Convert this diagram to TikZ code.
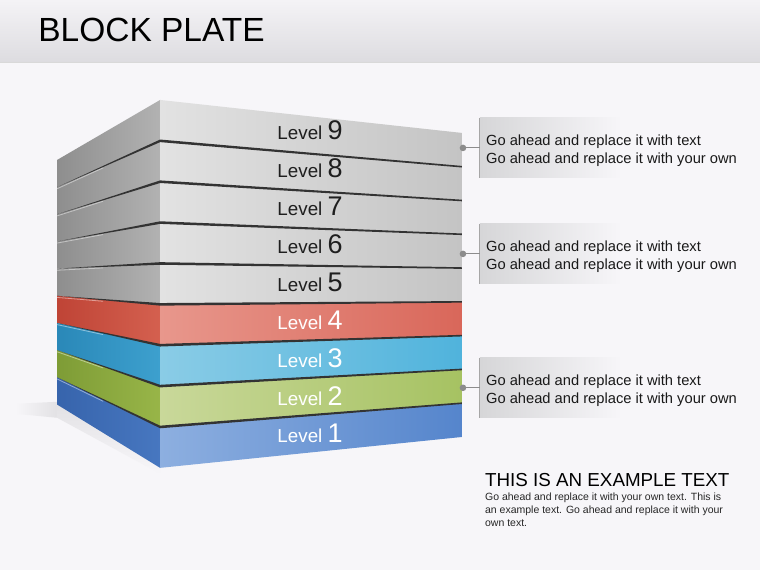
\documentclass[tikz,border=0pt]{standalone}
\usepackage{fontspec}
\setmainfont{Liberation Sans}
\usetikzlibrary{positioning}

\definecolor{pagebg}{HTML}{F7F6F9}
\definecolor{headtop}{HTML}{F4F3F6}
\definecolor{headbot}{HTML}{DDDCE0}
\definecolor{notegray}{HTML}{D6D6D8}
\definecolor{seam}{HTML}{333333}
\definecolor{floorgray}{HTML}{E2E1E4}
% plate colours: front left/right, side left/right, text
\definecolor{grayFL}{HTML}{E2E2E2}
\definecolor{grayFR}{HTML}{C4C4C4}
\definecolor{graySL}{HTML}{8E8E8E}
\definecolor{graySR}{HTML}{B2B2B2}
\definecolor{grayT}{HTML}{1E1E1E}
\definecolor{redFL}{HTML}{E8978C}
\definecolor{redFR}{HTML}{D9675A}
\definecolor{redSL}{HTML}{BF4436}
\definecolor{redSR}{HTML}{D4604F}
\definecolor{cyanFL}{HTML}{8ACCE6}
\definecolor{cyanFR}{HTML}{50B3DC}
\definecolor{cyanSL}{HTML}{2A88B8}
\definecolor{cyanSR}{HTML}{3DA0CE}
\definecolor{greenFL}{HTML}{C9D89A}
\definecolor{greenFR}{HTML}{A6C262}
\definecolor{greenSL}{HTML}{7E9C36}
\definecolor{greenSR}{HTML}{98B548}
\definecolor{blueFL}{HTML}{8DAFE0}
\definecolor{blueFR}{HTML}{5585CC}
\definecolor{blueSL}{HTML}{3764AC}
\definecolor{blueSR}{HTML}{4777C0}
\colorlet{redT}{white}
\colorlet{cyanT}{white}
\colorlet{greenT}{white}
\colorlet{blueT}{white}

\pgfdeclarehorizontalshading{notefade}{100bp}{color(0bp)=(notegray); color(25bp)=(notegray); color(52bp)=(pagebg); color(100bp)=(pagebg)}

\tikzset{
  plate front/.style={left color=#1FL, right color=#1FR},
  plate side/.style={left color=#1SL, right color=#1SR},
  level label/.style={anchor=base, inner sep=0pt, font=\fontsize{18.8}{20}\selectfont},
  note box/.style={shading=notefade, anchor=west, minimum width=255pt, minimum height=60pt,
    align=left, inner xsep=6pt, text=black!90, font=\fontsize{14.7}{18}\selectfont},
  note edge/.style={draw=black!35, line width=1pt},
  pin col/.style={black!45, line width=1pt}
}

\begin{document}
\begin{tikzpicture}[x=1pt, y=-1pt]
  % page and header
  \fill[pagebg] (0,0) rectangle (760,570);
  \shade[top color=headtop, bottom color=headbot] (0,0) rectangle (760,62);
  \draw[black!15] (0,62) -- (760,62);
  \node[anchor=base west, inner sep=0pt, font=\fontsize{33.5}{34}\selectfont] (title) at (38,42) {BLOCK PLATE};

  % floor shadow
  \shade[left color=pagebg, right color=floorgray] (15,404) -- (57,402) -- (57,418) -- (15,414) -- cycle;
  \shade[top color=floorgray, bottom color=pagebg] (57,402) -- (160,465) -- (160,474) -- (57,418) -- cycle;

  % the stack, top plate first
  \foreach \n/\c in {9/gray,8/gray,7/gray,6/gray,5/gray,4/red,3/cyan,2/green,1/blue}{
    \pgfmathsetmacro\k{9-\n}
    \pgfmathsetmacro\cT{100+40.9*\k}
    \pgfmathsetmacro\cB{\cT+40.9}
    \pgfmathsetmacro\rT{133+33.8*\k}
    \pgfmathsetmacro\rB{\rT+33.8}
    \pgfmathsetmacro\lT{160+27.2*\k}
    \pgfmathsetmacro\lB{\lT+27.2}
    \pgfmathsetmacro\mT{\lT+0.45*(\cT-\lT)}
    \shade[plate side=\c] (57,\lT) -- (160,\cT) -- (160,\cB) -- (57,\lB) -- cycle;
    \shade[plate front=\c] (160,\cT) -- (462,\rT) -- (462,\rB) -- (160,\cB) -- cycle;
    \ifnum\n<9
      \draw[white, opacity=0.45, line width=0.8pt] (57,\lT+1.6) -- (103,\mT+1.6);
      \fill[seam] (57,\lT) -- (160,\cT-1.3) -- (462,\rT-0.8) -- (462,\rT+0.8) -- (160,\cT+1.3) -- cycle;
    \fi
    \pgfmathsetmacro\ly{140+37.9*\k}
    \node[level label, text=\c T] (lv\n) at (310,\ly) {Level {\fontsize{27}{27}\selectfont\n}};
  }

  % callouts
  \node[note box] (note1) at (480,148) {\rule{0pt}{17pt}Go ahead and replace it with text\\Go ahead and replace it with your own};
  \node[note box] (note2) at (480,254) {\rule{0pt}{17pt}Go ahead and replace it with text\\Go ahead and replace it with your own};
  \node[note box] (note3) at (480,388) {\rule{0pt}{17pt}Go ahead and replace it with text\\Go ahead and replace it with your own};
  \draw[note edge] (note1.north west) -- (note1.south west);
  \draw[note edge] (note2.north west) -- (note2.south west);
  \draw[note edge] (note3.north west) -- (note3.south west);

  \coordinate (tip1) at (463,148);
  \coordinate (tip2) at (463,254);
  \coordinate (tip3) at (463,388);
  \draw[pin col] (tip1) -- (note1.west);
  \draw[pin col] (tip2) -- (note2.west);
  \draw[pin col] (tip3) -- (note3.west);
  \fill[black!45] (tip1) circle (3.3);
  \fill[black!45] (tip2) circle (3.3);
  \fill[black!45] (tip3) circle (3.3);

  % example text
  \node[anchor=base west, inner sep=0pt, font=\fontsize{18.8}{20}\selectfont] (head) at (485,487) {THIS IS AN EXAMPLE TEXT};
  \node[anchor=north west, inner sep=0pt, align=left, text=black!85, font=\fontsize{10.5}{13}\selectfont] (body) at (485,493)
    {Go ahead and replace it with your own text. This is\\an example text. Go ahead and replace it with your\\own text.};
\end{tikzpicture}
\end{document}
